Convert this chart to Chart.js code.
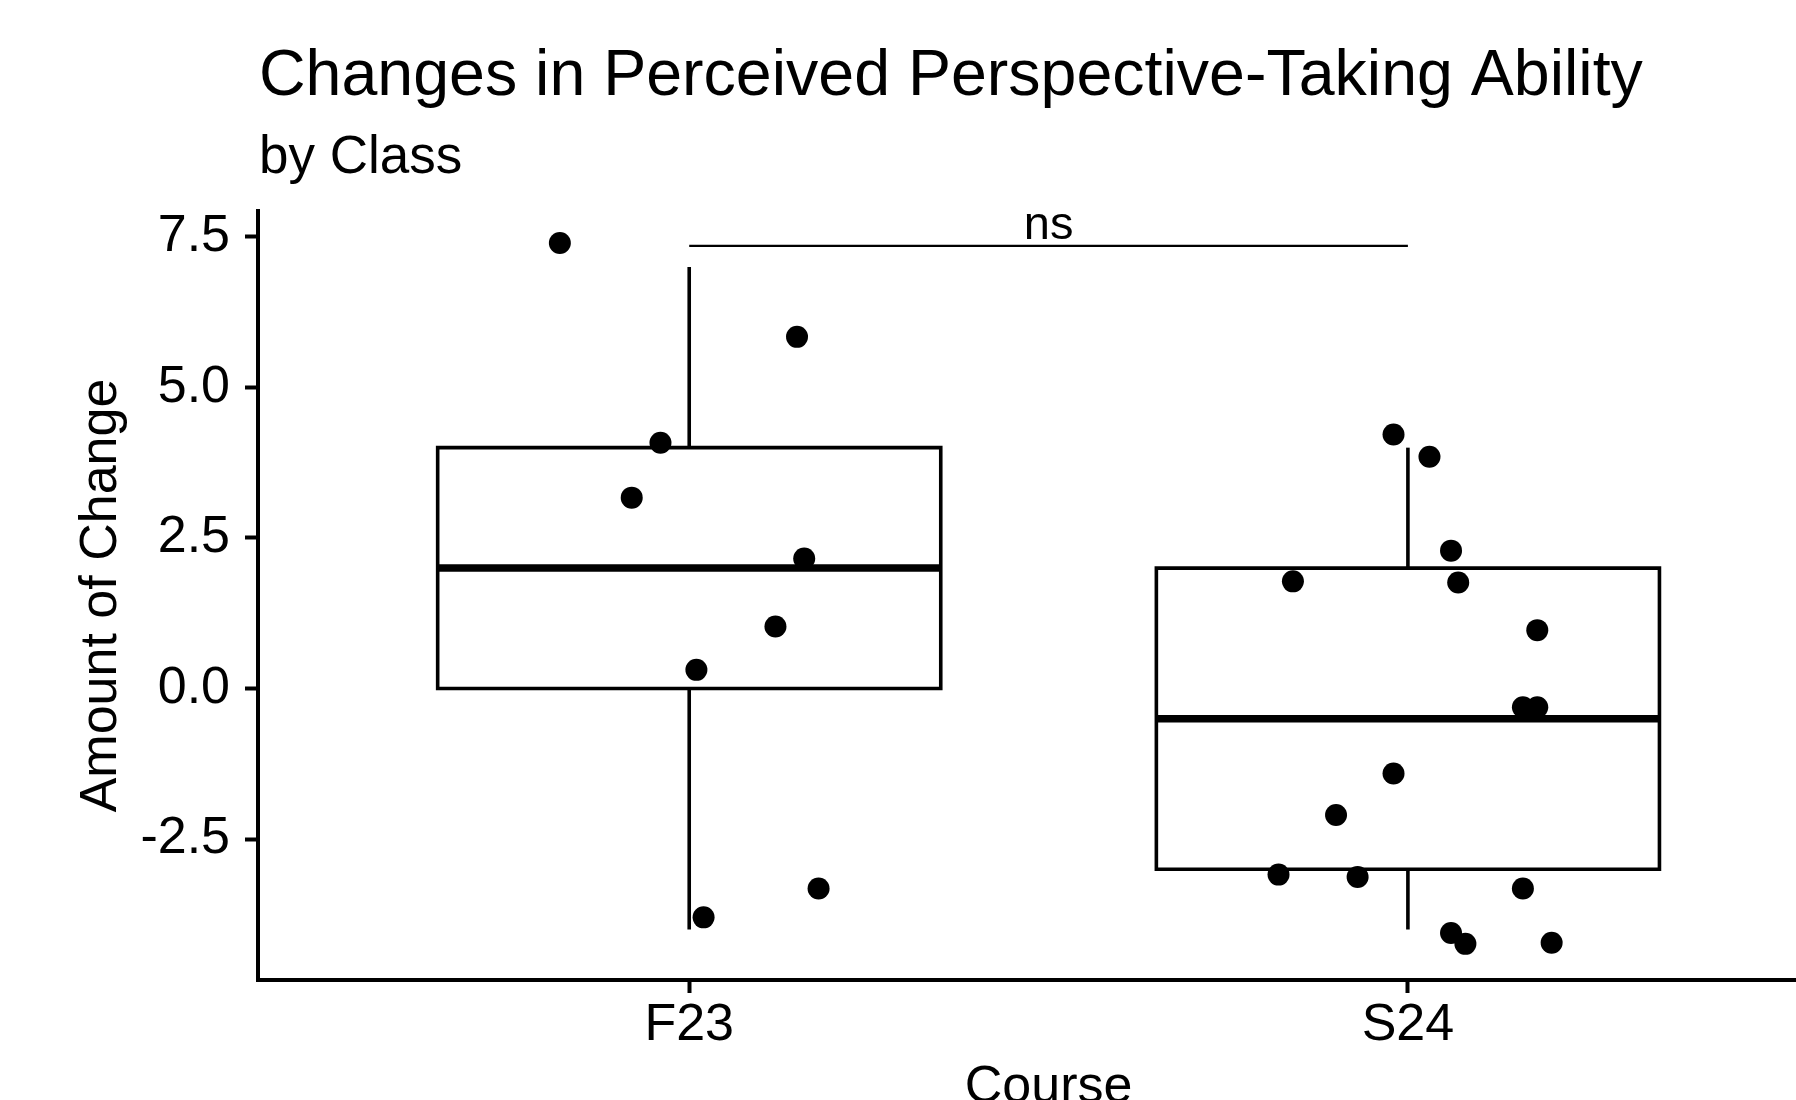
<!DOCTYPE html>
<html>
<head>
<meta charset="utf-8">
<title>Changes in Perceived Perspective-Taking Ability</title>
<script src="https://cdn.jsdelivr.net/npm/chart.js@4.4.1/dist/chart.umd.min.js"></script>
<style>
  html, body { margin: 0; padding: 0; background: #fff; }
  canvas { display: block; }
</style>
</head>
<body>
<canvas id="chart" width="1796" height="1100"></canvas>
<script>
// values
const categories = ['F23', 'S24'];
const yTicks = [-2.5, 0, 2.5, 5, 7.5];

const whiskerLow  = [-4.0, -4.0];
const boxQ1       = [ 0.0, -3.0];
const boxMedian   = [ 2.0, -0.5];
const boxQ3       = [ 4.0,  2.0];
const whiskerHigh = [ 7.0,  4.0];

// jittered points: horizontal jitter (category units) + value
const f23Jitter = [-0.18, 0.15, -0.04, -0.08, 0.16, 0.12, 0.01, 0.18, 0.02];
const f23Values = [ 7.40, 5.84,  4.08,  3.17, 2.16, 1.03, 0.31, -3.32, -3.80];
const s24Jitter = [-0.02, 0.03, 0.06, -0.16, 0.07, 0.18, 0.16, 0.18, -0.02, -0.10, -0.18, -0.07, 0.16, 0.06, 0.08, 0.20];
const s24Values = [ 4.22, 3.85, 2.29,  1.78, 1.76, 0.97, -0.31, -0.31, -1.41, -2.10, -3.09, -3.13, -3.32, -4.06, -4.24, -4.22];

// significance bracket
const sigPair = [1, 2];
const sigY = 7.35;
const sigLabel = 'ns';

const TITLE = 'Changes in Perceived Perspective-Taking Ability';
const SUBTITLE = 'by Class';
const X_TITLE = 'Course';
const Y_TITLE = 'Amount of Change';

const FONT = '"Liberation Sans", Arial, Helvetica, sans-serif';
const HALF = 0.35; // half box width in category units

const datasets = [];

// points first so they sit on top
datasets.push({
  label: 'points',
  order: 0,
  data: f23Values.map((v, i) => ({ x: 1 + f23Jitter[i], y: v }))
    .concat(s24Values.map((v, i) => ({ x: 2 + s24Jitter[i], y: v }))),
  backgroundColor: '#000',
  borderWidth: 0,
  pointRadius: 11,
  pointHoverRadius: 11
});

function segment(pts, width) {
  return {
    order: 1,
    data: pts,
    showLine: true,
    borderColor: '#000',
    borderWidth: width,
    pointRadius: 0,
    pointHoverRadius: 0,
    borderJoinStyle: 'miter',
    borderCapStyle: 'butt',
    tension: 0,
    fill: false
  };
}

categories.forEach((c, i) => {
  const cx = i + 1;
  // box outline
  datasets.push(segment([
    { x: cx - HALF, y: boxQ1[i] }, { x: cx + HALF, y: boxQ1[i] },
    { x: cx + HALF, y: boxQ3[i] }, { x: cx - HALF, y: boxQ3[i] },
    { x: cx - HALF, y: boxQ1[i] }, { x: cx + HALF, y: boxQ1[i] }
  ], 3.6));
  // median
  datasets.push(segment([{ x: cx - HALF, y: boxMedian[i] }, { x: cx + HALF, y: boxMedian[i] }], 7.5));
  // whiskers
  datasets.push(segment([{ x: cx, y: boxQ3[i] }, { x: cx, y: whiskerHigh[i] }], 3.6));
  datasets.push(segment([{ x: cx, y: boxQ1[i] }, { x: cx, y: whiskerLow[i] }], 3.6));
});

// bracket
datasets.push(segment([{ x: sigPair[0], y: sigY }, { x: sigPair[1], y: sigY }], 2.2));

const textPlugin = {
  id: 'texts',
  beforeDraw(chart) {
    const ctx = chart.ctx;
    ctx.save();
    ctx.fillStyle = '#fff';
    ctx.fillRect(0, 0, chart.width, chart.height);
    ctx.restore();
  },
  afterDraw(chart) {
    const { ctx, chartArea } = chart;
    const xs = chart.scales.x, ys = chart.scales.y;
    ctx.save();
    ctx.fillStyle = '#000';
    ctx.textBaseline = 'alphabetic';
    ctx.textAlign = 'left';
    ctx.font = '64.5px ' + FONT;
    ctx.fillText(TITLE, chartArea.left + 1, 95);
    ctx.font = '53px ' + FONT;
    ctx.fillText(SUBTITLE, chartArea.left + 1, 173);

    ctx.textAlign = 'center';
    ctx.font = '47px ' + FONT;
    ctx.fillText(sigLabel, xs.getPixelForValue((sigPair[0] + sigPair[1]) / 2), ys.getPixelForValue(sigY) - 7);

    // panel centre lies at 1.5 (panel runs 0.4 .. 2.6, cut by the image edge)
    ctx.font = '52px ' + FONT;
    ctx.fillText(X_TITLE, xs.getPixelForValue(1.5), 1102);
    ctx.restore();
  }
};

new Chart(document.getElementById('chart'), {
  type: 'scatter',
  data: { datasets },
  plugins: [textPlugin],
  options: {
    responsive: false,
    devicePixelRatio: 1,
    animation: false,
    events: [],
    layout: { autoPadding: false, padding: { top: 211, left: 0, right: 0, bottom: 0 } },
    plugins: { legend: { display: false }, tooltip: { enabled: false }, title: { display: false } },
    scales: {
      x: {
        type: 'linear',
        min: 0.4,
        max: 2.54,
        afterFit: s => { s.height = 120; },
        afterBuildTicks: s => { s.ticks = categories.map((c, i) => ({ value: i + 1 })); },
        grid: { display: true, drawOnChartArea: false, drawTicks: true, tickLength: 13, tickWidth: 4, tickColor: '#000' },
        border: { display: true, color: '#000', width: 4 },
        ticks: {
          color: '#000',
          font: { size: 52, family: FONT, lineHeight: 1.0 },
          padding: 7,
          maxRotation: 0,
          autoSkip: false,
          callback: v => categories[Math.round(v) - 1]
        }
      },
      y: {
        type: 'linear',
        min: -4.84,
        max: 7.93,
        afterFit: s => { s.width = 258; },
        afterBuildTicks: s => { s.ticks = yTicks.map(v => ({ value: v })); },
        grid: { display: true, drawOnChartArea: false, drawTicks: true, tickLength: 13, tickWidth: 4, tickColor: '#000' },
        border: { display: true, color: '#000', width: 4 },
        ticks: {
          color: '#000',
          font: { size: 52, family: FONT },
          padding: 15,
          autoSkip: false,
          callback: v => v.toFixed(1)
        },
        title: {
          display: true,
          text: Y_TITLE,
          color: '#000',
          font: { size: 52, family: FONT },
          padding: { top: 70, bottom: 0 }
        }
      }
    }
  }
});
</script>
</body>
</html>
